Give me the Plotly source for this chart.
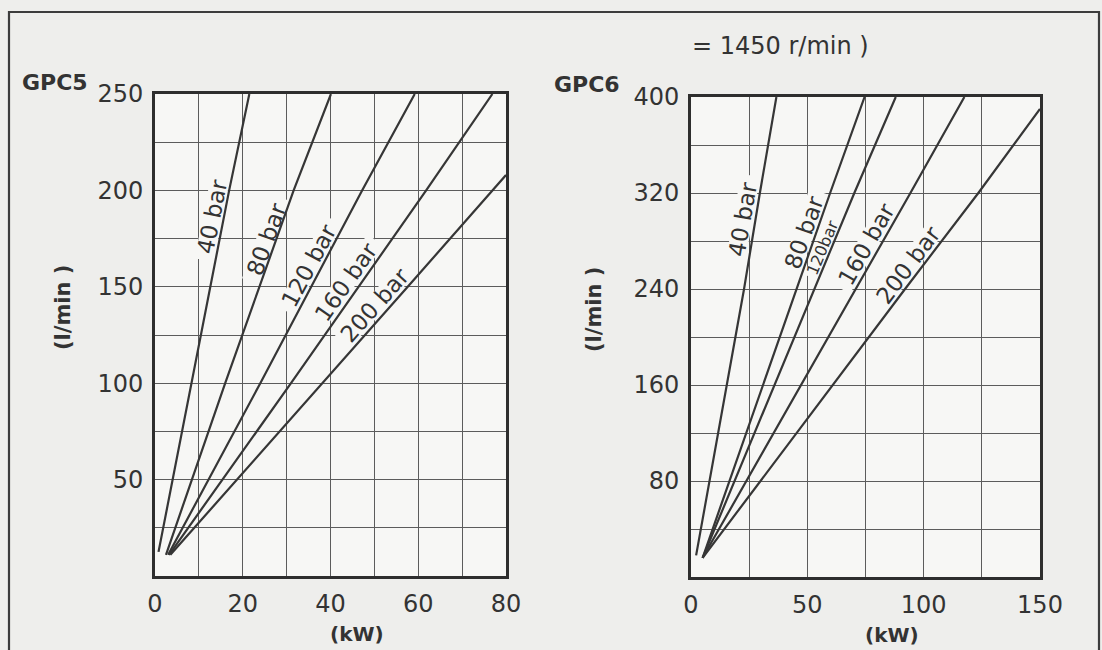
import math
import plotly.graph_objects as go

W, H = 1102, 650

# ---------------- data ----------------
pressure_labels = ["40 bar", "80 bar", "120 bar", "160 bar", "200 bar"]

# GPC5 : power (kW) vs flow (l/min)
gpc5_power_kw = [
    [0.8, 10.5, 16.9, 21.5],
    [2.5, 16.0, 31.6, 40.1],
    [3.0, 24.0, 47.2, 59.2],
    [3.2, 31.0, 61.8, 76.9],
    [3.5, 38.2, 57.6, 80.0],
]
gpc5_flow_lpm = [
    [12.5, 125, 200, 250],
    [11, 100, 200, 250],
    [11, 100, 200, 250],
    [11, 100, 200, 250],
    [11, 100, 150, 208],
]

# GPC6 : power (kW) vs flow (l/min)
gpc6_power_kw = [
    [2.2, 22.8, 29.6, 36.7],
    [5.0, 45.2, 59.8, 74.6],
    [5.0, 53.0, 70.2, 88.0],
    [5.0, 71.0, 94.3, 117.5],
    [5.0, 92.0, 123.5, 150.0],
]
gpc6_flow_lpm = [
    [18, 240, 320, 400],
    [16, 240, 320, 400],
    [16, 240, 320, 400],
    [16, 240, 320, 400],
    [16, 240, 320, 390],
]

gpc5_x_ticks = [0, 10, 20, 30, 40, 50, 60, 70, 80]
gpc5_x_text = ["0", "", "20", "", "40", "", "60", "", "80"]
gpc5_y_ticks = [0, 25, 50, 75, 100, 125, 150, 175, 200, 225, 250]
gpc5_y_text = ["", "", "50", "", "100", "", "150", "", "200", "", "250"]

gpc6_x_ticks = [0, 25, 50, 75, 100, 125, 150]
gpc6_x_text = ["0", "", "50", "", "100", "", "150"]
gpc6_y_ticks = [0, 40, 80, 120, 160, 200, 240, 280, 320, 360, 400]
gpc6_y_text = ["", "", "80", "", "160", "", "240", "", "320", "", "400"]

gpc6_label_text = ["40 bar", "80 bar", "120bar", "160 bar", "200 bar"]

# label placement: approximate label centres (data coords) -- layout only
gpc5_label_pos = [(12.0, 187), (23.4, 176), (35.3, 161), (44.5, 151), (50.6, 139.5)]
gpc6_label_pos = [(20.2, 299), (43.6, 290), (54.6, 276), (73.0, 280), (93.5, 260)]

# ---------------- layout geometry (pixels) ----------------
L1 = dict(x0=155, x1=506, y0=94, y1=576, xr=(0, 80), yr=(0, 250))
L2 = dict(x0=691, x1=1040, y0=97, y1=577, xr=(0, 150), yr=(0, 400))

INK = "#363636"
GRID = "#5c5c5c"
FONT = "DejaVu Sans, Verdana, sans-serif"
TXT = "#333333"
PAPER = "#eeeeec"
PLOT = "#f7f7f5"

fig = go.Figure()

for xs, ys in zip(gpc5_power_kw, gpc5_flow_lpm):
    fig.add_trace(go.Scatter(x=xs, y=ys, mode="lines", xaxis="x", yaxis="y",
                             line=dict(color=INK, width=2.2), showlegend=False,
                             hoverinfo="skip"))
for xs, ys in zip(gpc6_power_kw, gpc6_flow_lpm):
    fig.add_trace(go.Scatter(x=xs, y=ys, mode="lines", xaxis="x2", yaxis="y2",
                             line=dict(color=INK, width=2.2), showlegend=False,
                             hoverinfo="skip"))


def axis_common():
    return dict(showline=True, mirror=True, linecolor="#2e2e2e", linewidth=2.6,
                showgrid=True, gridcolor=GRID, gridwidth=1.3, zeroline=False,
                ticks="outside", tickcolor="rgba(0,0,0,0)",
                tickfont=dict(family=FONT, size=24, color=TXT),
                tickmode="array", fixedrange=True, automargin=False)


def dom_x(g):
    return [g["x0"] / W, g["x1"] / W]


def dom_y(g):
    return [1 - g["y1"] / H, 1 - g["y0"] / H]


xa = axis_common(); xa.update(domain=dom_x(L1), range=list(L1["xr"]), tickvals=gpc5_x_ticks,
                              ticktext=gpc5_x_text, anchor="y", ticklen=4)
ya = axis_common(); ya.update(domain=dom_y(L1), range=list(L1["yr"]), tickvals=gpc5_y_ticks,
                              ticktext=gpc5_y_text, anchor="x", ticklen=4)
xb = axis_common(); xb.update(domain=dom_x(L2), range=list(L2["xr"]), tickvals=gpc6_x_ticks,
                              ticktext=gpc6_x_text, anchor="y2", ticklen=4)
yb = axis_common(); yb.update(domain=dom_y(L2), range=list(L2["yr"]), tickvals=gpc6_y_ticks,
                              ticktext=gpc6_y_text, anchor="x2", ticklen=4)

annotations = []
shapes = []


def make_labels(powers, flows, positions, texts, g, xref, yref, sizes, dist):
    sx = (g["x1"] - g["x0"]) / (g["xr"][1] - g["xr"][0])
    sy = (g["y1"] - g["y0"]) / (g["yr"][1] - g["yr"][0])

    def to_px(x, y):
        return g["x0"] + (x - g["xr"][0]) * sx, g["y1"] - (y - g["yr"][0]) * sy

    def to_data(px, py):
        return g["xr"][0] + (px - g["x0"]) / sx, g["yr"][0] + (g["y1"] - py) / sy

    for xs, ys, pos, txt, fs, d in zip(powers, flows, positions, texts, sizes, dist):
        ax, ay = to_px(xs[0], ys[0])
        bx, by = to_px(xs[-1], ys[-1])
        ux, uy = bx - ax, by - ay
        ln = math.hypot(ux, uy)
        ux, uy = ux / ln, uy / ln
        nx, ny = uy, -ux            # normal pointing up-left
        cx, cy = to_px(*pos)
        t = (cx - ax) * ux + (cy - ay) * uy
        px, py = ax + t * ux + d * nx, ay + t * uy + d * ny
        ang = math.degrees(math.atan2(-uy, ux))
        dx, dy = to_data(px, py)
        annotations.append(dict(x=dx, y=dy, xref=xref, yref=yref, text=txt,
                                showarrow=False, textangle=-ang,
                                font=dict(family=FONT, size=fs, color=TXT),
                                xanchor="center", yanchor="middle"))
        # light halo under the label (masks grid lines only, not the curves)
        hl = len(txt) * 0.30 * fs + 3
        hh = 0.42 * fs
        corners = []
        for a, b in [(-hl, -hh), (hl, -hh), (hl, hh), (-hl, hh)]:
            qx = px + a * ux + b * nx
            qy = py + a * uy + b * ny
            corners.append(to_data(qx, qy))
        path = "M %f,%f L %f,%f L %f,%f L %f,%f Z" % tuple(v for c in corners for v in c)
        shapes.append(dict(type="path", path=path, xref=xref, yref=yref,
                           fillcolor=PLOT, line=dict(width=0), layer="between"))


make_labels(gpc5_power_kw, gpc5_flow_lpm, gpc5_label_pos, pressure_labels, L1, "x", "y",
            [23, 23, 23, 23, 23], [12, 12, 12, 12, 12])
make_labels(gpc6_power_kw, gpc6_flow_lpm, gpc6_label_pos, gpc6_label_text, L2, "x2", "y2",
            [23, 23, 16, 23, 23], [12, 12, 9, 12, 12])


def paper_text(px, py, txt, size, bold=False, angle=0):
    annotations.append(dict(x=px / W, y=1 - py / H, xref="paper", yref="paper",
                            text=("<b>%s</b>" % txt) if bold else txt, showarrow=False,
                            textangle=angle, xanchor="center", yanchor="middle",
                            font=dict(family=FONT, size=size, color=TXT)))


paper_text(55, 83, "GPC5", 22, bold=True)
paper_text(587, 85, "GPC6", 22, bold=True)
paper_text(780, 46, "= 1450 r/min )", 24)
paper_text(63, 308, "(l/min )", 21, bold=True, angle=-90)
paper_text(594, 310, "(l/min )", 21, bold=True, angle=-90)
paper_text(357, 634, "(kW)", 20, bold=True)
paper_text(892, 635, "(kW)", 20, bold=True)

shapes.append(dict(type="rect", xref="paper", yref="paper", x0=9 / W, x1=1099 / W,
                   y0=-0.05, y1=1 - 12 / H, line=dict(color="#3c3c3c", width=2.2),
                   fillcolor="rgba(0,0,0,0)", layer="below"))

fig.update_layout(
    width=W, height=H, autosize=False,
    margin=dict(l=0, r=0, t=0, b=0, pad=0),
    paper_bgcolor=PAPER, plot_bgcolor=PLOT,
    xaxis=xa, yaxis=ya, xaxis2=xb, yaxis2=yb,
    annotations=annotations, shapes=shapes,
    showlegend=False,
    font=dict(family=FONT, color=TXT),
)

fig.write_html("out.html", config={"displayModeBar": False},
               post_script="document.body.style.margin='0';"
                           "document.body.style.overflow='hidden';")
